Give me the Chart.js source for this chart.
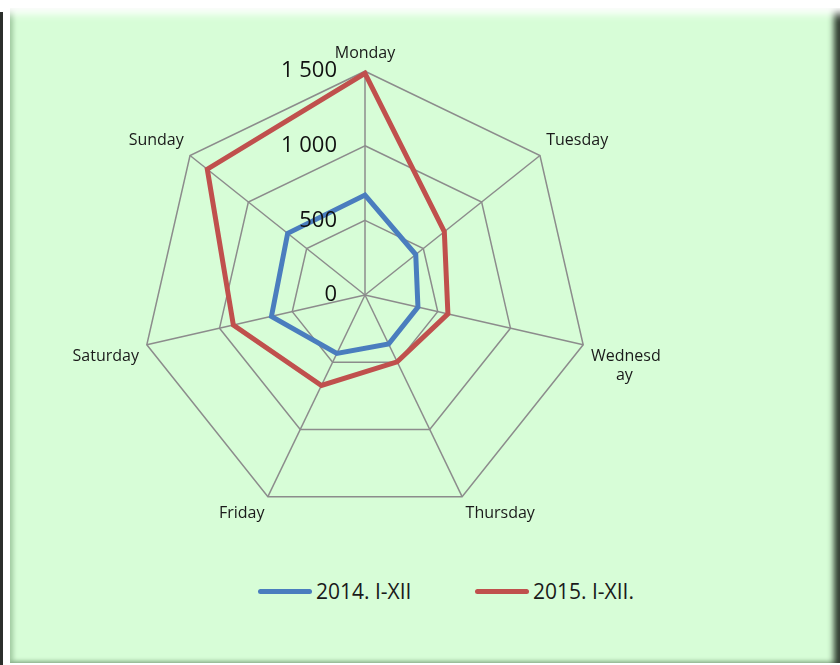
<!DOCTYPE html>
<html>
<head>
<meta charset="utf-8">
<script src="https://cdn.jsdelivr.net/npm/chart.js@4/dist/chart.umd.min.js"></script>
<style>
  html, body { margin: 0; padding: 0; background: #ffffff; width: 840px; height: 665px; overflow: hidden; }
  #leftline { position: absolute; left: 0; top: 12px; width: 3px; height: 653px; background: #2b2f2b; }
  #frame {
    position: absolute; left: 10px; top: 8px; width: 830px; height: 655px;
    background: #d7fdd7;
    box-shadow: inset 0 14px 8px -8px #ffffff, inset -9px 0 6px -3px #2e3a2e, inset 6px 0 5px -3px #9fc89f, inset 0 -5px 4px -3px #9fc89f;
  }
  #wrap { position: absolute; left: 20px; top: 31px; width: 690px; height: 503px; }
  #legend { position: absolute; top: 577px; left: 0; width: 840px; height: 28px; font-family: 'Open Sans', sans-serif; font-size: 21px; color: #1a1a1a; }
  .item { position: absolute; top: 0; display: flex; align-items: center; height: 28px; white-space: nowrap; }
  .swatch { display: inline-block; width: 54px; height: 5px; border-radius: 3px; margin-right: 4px; }
</style>
</head>
<body>
<div id="leftline"></div>
<div id="frame"></div>
<div id="wrap"><canvas id="c" width="690" height="503"></canvas></div>
<div id="legend"></div>
<script>
const categories = ['Monday', 'Tuesday', ['Wednesd', '      ay'], 'Thursday', 'Friday', 'Saturday', 'Sunday'];
const series2014 = [670, 435, 364, 365, 435, 643, 663];
const series2015 = [1486, 680, 570, 497, 673, 905, 1352];
const seriesNames = ['2014. I-XII', '2015. I-XII.'];
const seriesColors = ['#4a7dbe', '#c0504d'];
const tickValues = [0, 500, 1000, 1500];

function fmt(v) { return String(v).replace(/\B(?=(\d{3})+(?!\d))/g, ' '); }

const tickPlugin = {
  id: 'tickText',
  afterDatasetsDraw(chart) {
    const s = chart.scales.r;
    const ctx = chart.ctx;
    ctx.save();
    ctx.font = '22px "Open Sans", sans-serif';
    ctx.fillStyle = '#111111';
    ctx.textAlign = 'right';
    ctx.textBaseline = 'middle';
    tickValues.forEach(v => {
      const d = s.getDistanceFromCenterForValue(v);
      ctx.fillText(fmt(v), s.xCenter - 28, s.yCenter - d);
    });
    ctx.restore();
  }
};

new Chart(document.getElementById('c'), {
  type: 'radar',
  data: {
    labels: categories,
    datasets: [
      { label: seriesNames[0], data: series2014, borderColor: seriesColors[0], backgroundColor: 'transparent', borderWidth: 5, pointRadius: 0, fill: false },
      { label: seriesNames[1], data: series2015, borderColor: seriesColors[1], backgroundColor: 'transparent', borderWidth: 5, pointRadius: 0, fill: false }
    ]
  },
  options: {
    responsive: false,
    animation: false,
    plugins: { legend: { display: false }, tooltip: { enabled: false } },
    elements: { line: { tension: 0, borderJoinStyle: 'miter' } },
    scales: {
      r: {
        min: 0, max: 1500,
        ticks: { display: false, stepSize: 500 },
        grid: { color: '#8c8c8c', lineWidth: 1.5 },
        angleLines: { color: '#8c8c8c', lineWidth: 1.5 },
        pointLabels: { font: { family: 'Open Sans', size: 16 }, color: '#1a1a1a', padding: 8 }
      }
    }
  },
  plugins: [tickPlugin]
});

const lg = document.getElementById('legend');
const lx = [258, 475];
seriesNames.forEach((n, i) => {
  const it = document.createElement('div');
  it.className = 'item';
  it.style.left = lx[i] + 'px';
  const sw = document.createElement('span');
  sw.className = 'swatch';
  sw.style.background = seriesColors[i];
  it.appendChild(sw);
  it.appendChild(document.createTextNode(n));
  lg.appendChild(it);
});
</script>
</body>
</html>
